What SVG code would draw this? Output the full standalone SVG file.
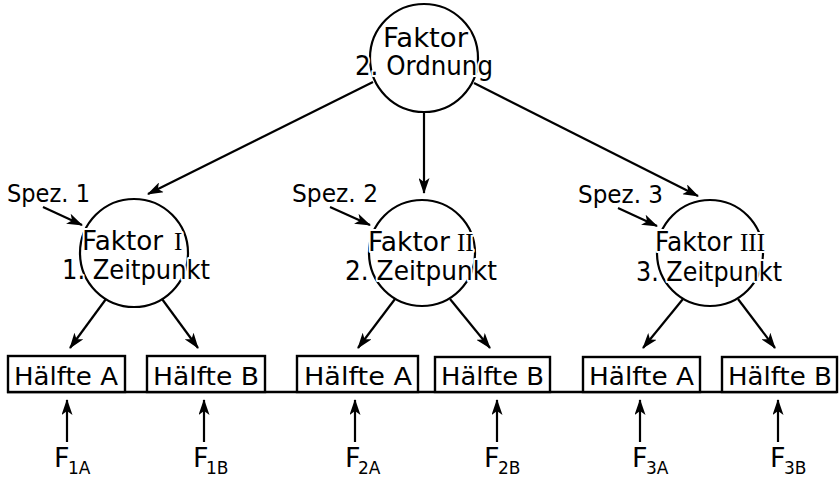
<svg xmlns="http://www.w3.org/2000/svg" width="839" height="481" viewBox="0 0 839 481">
  <style>
    .ring { fill: none; stroke: #000; stroke-width: 2.2; }
    .box { fill: #fff; stroke: #000; stroke-width: 2.4; }
    .lbl { font-family: "DejaVu Sans", "Liberation Sans", sans-serif; fill: #000; }
    .t { font-size: 27px; }
    .sp { font-size: 25px; }
    .halo { stroke: #fff; stroke-width: 4; paint-order: stroke; stroke-linejoin: round; }
    .num { font-family: "Liberation Serif", serif; font-size: 25px; fill: #000; }
    .bx { font-size: 25px; }
    .f { font-size: 27px; }
    .sub { font-size: 17px; }
    .arrow { stroke: #000; stroke-width: 2.2; fill: none; marker-end: url(#head); }
  </style>
  <defs>
    <marker id="head" viewBox="0 0 16 11" refX="15" refY="5.5" markerWidth="16" markerHeight="11" markerUnits="userSpaceOnUse" orient="auto">
      <path d="M0,0 L16,5.5 L0,11 L4,5.5 z" fill="#000"/>
    </marker>
  </defs>

  <rect width="839" height="481" fill="#fff"/>

  <!-- baseline running under all halves -->
  <line x1="7" y1="392" x2="837" y2="392" stroke="#000" stroke-width="2.5"/>

  <!-- connectors -->
  <g id="connectors">
    <line class="arrow" x1="373" y1="82" x2="148" y2="194"/>
    <line class="arrow" x1="424" y1="112" x2="424" y2="193"/>
    <line class="arrow" x1="474" y1="83" x2="698" y2="196"/>

    <line class="arrow" x1="43" y1="207" x2="82" y2="225"/>
    <line class="arrow" x1="330" y1="207" x2="370" y2="225"/>
    <line class="arrow" x1="618" y1="208" x2="657" y2="226"/>

    <line class="arrow" x1="106" y1="299" x2="70" y2="348"/>
    <line class="arrow" x1="162" y1="299" x2="198" y2="348"/>
    <line class="arrow" x1="395" y1="299" x2="358" y2="348"/>
    <line class="arrow" x1="450" y1="299" x2="490" y2="348"/>
    <line class="arrow" x1="683" y1="299" x2="643" y2="348"/>
    <line class="arrow" x1="738" y1="299" x2="775" y2="348"/>

    <line class="arrow" x1="67" y1="442" x2="67" y2="400"/>
    <line class="arrow" x1="204" y1="442" x2="204" y2="400"/>
    <line class="arrow" x1="355" y1="442" x2="355" y2="400"/>
    <line class="arrow" x1="497" y1="442" x2="497" y2="400"/>
    <line class="arrow" x1="640" y1="442" x2="640" y2="400"/>
    <line class="arrow" x1="778" y1="442" x2="778" y2="400"/>
  </g>

  <!-- second-order factor -->
  <g id="faktor-2-ordnung">
    <circle class="ring" cx="424" cy="58" r="54"/>
    <text class="lbl t halo" x="383" y="47" textLength="85" lengthAdjust="spacingAndGlyphs">Faktor</text>
    <text class="lbl t halo" x="355" y="75" textLength="138" lengthAdjust="spacingAndGlyphs">2. Ordnung</text>
  </g>

  <!-- first-order factors -->
  <g id="faktor-1">
    <circle class="ring" cx="134" cy="253" r="54"/>
    <text class="lbl t halo" x="82" y="250" textLength="81" lengthAdjust="spacingAndGlyphs">Faktor</text>
    <text class="num halo" x="174" y="250">I</text>
    <text class="lbl t halo" x="62" y="279" textLength="148" lengthAdjust="spacingAndGlyphs">1. Zeitpunkt</text>
  </g>
  <g id="faktor-2">
    <circle class="ring" cx="422" cy="253" r="53"/>
    <text class="lbl t halo" x="368" y="251" textLength="82" lengthAdjust="spacingAndGlyphs">Faktor</text>
    <text class="num halo" x="457" y="251">II</text>
    <text class="lbl t halo" x="345" y="280" textLength="152" lengthAdjust="spacingAndGlyphs">2. Zeitpunkt</text>
  </g>
  <g id="faktor-3">
    <circle class="ring" cx="710" cy="253" r="53"/>
    <text class="lbl t halo" x="655" y="251" textLength="77" lengthAdjust="spacingAndGlyphs">Faktor</text>
    <text class="num halo" x="740" y="251">III</text>
    <text class="lbl t halo" x="636" y="281" textLength="146" lengthAdjust="spacingAndGlyphs">3. Zeitpunkt</text>
  </g>

  <!-- specific factors -->
  <g id="spez-1"><text class="lbl sp" x="7" y="202" textLength="83" lengthAdjust="spacingAndGlyphs">Spez. 1</text></g>
  <g id="spez-2"><text class="lbl sp" x="292" y="202" textLength="86" lengthAdjust="spacingAndGlyphs">Spez. 2</text></g>
  <g id="spez-3"><text class="lbl sp" x="578" y="203" textLength="85" lengthAdjust="spacingAndGlyphs">Spez. 3</text></g>

  <!-- test halves -->
  <g id="haelfte-1a">
    <rect class="box" x="8" y="356" width="117" height="36"/>
    <text class="lbl bx" x="14" y="385" textLength="104" lengthAdjust="spacingAndGlyphs">Hälfte A</text>
  </g>
  <g id="haelfte-1b">
    <rect class="box" x="147" y="356" width="118" height="36"/>
    <text class="lbl bx" x="153" y="385" textLength="106" lengthAdjust="spacingAndGlyphs">Hälfte B</text>
  </g>
  <g id="haelfte-2a">
    <rect class="box" x="297" y="356" width="121" height="36"/>
    <text class="lbl bx" x="304" y="385" textLength="108" lengthAdjust="spacingAndGlyphs">Hälfte A</text>
  </g>
  <g id="haelfte-2b">
    <rect class="box" x="435" y="357" width="115" height="35"/>
    <text class="lbl bx" x="441" y="385" textLength="103" lengthAdjust="spacingAndGlyphs">Hälfte B</text>
  </g>
  <g id="haelfte-3a">
    <rect class="box" x="583" y="357" width="117" height="35"/>
    <text class="lbl bx" x="589" y="385" textLength="105" lengthAdjust="spacingAndGlyphs">Hälfte A</text>
  </g>
  <g id="haelfte-3b">
    <rect class="box" x="722" y="357" width="115" height="35"/>
    <text class="lbl bx" x="728" y="385" textLength="104" lengthAdjust="spacingAndGlyphs">Hälfte B</text>
  </g>

  <!-- error terms -->
  <g id="f-1a"><text class="lbl f" x="54" y="467">F</text><text class="lbl sub" x="68" y="474">1A</text></g>
  <g id="f-1b"><text class="lbl f" x="193" y="467">F</text><text class="lbl sub" x="206" y="474">1B</text></g>
  <g id="f-2a"><text class="lbl f" x="345" y="467">F</text><text class="lbl sub" x="358" y="474">2A</text></g>
  <g id="f-2b"><text class="lbl f" x="484" y="467">F</text><text class="lbl sub" x="498" y="474">2B</text></g>
  <g id="f-3a"><text class="lbl f" x="632" y="467">F</text><text class="lbl sub" x="646" y="474">3A</text></g>
  <g id="f-3b"><text class="lbl f" x="770" y="467">F</text><text class="lbl sub" x="784" y="474">3B</text></g>
</svg>
